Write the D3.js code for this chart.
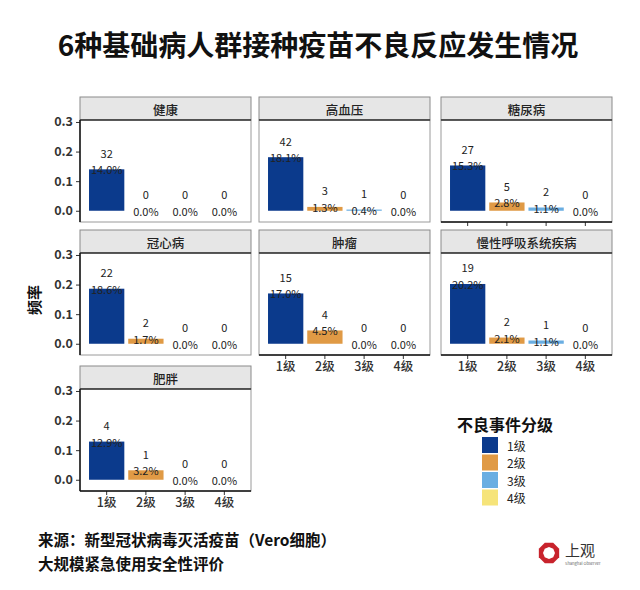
<!DOCTYPE html>
<html>
<head>
<meta charset="utf-8">
<script src="https://cdn.jsdelivr.net/npm/d3@7"></script>
<style>
  html, body { margin: 0; padding: 0; background: #fff; }
  svg { display: block; }
  text { font-family: "Noto Sans CJK SC", "Liberation Sans", sans-serif; }
</style>
</head>
<body>
<svg id="chart" width="640" height="590"></svg>
<script>
// ---------- data ----------
const panelNames = ["健康", "高血压", "糖尿病", "冠心病", "肿瘤", "慢性呼吸系统疾病", "肥胖"];
const grades = ["1级", "2级", "3级", "4级"];
const counts = [
  [32, 0, 0, 0],
  [42, 3, 1, 0],
  [27, 5, 2, 0],
  [22, 2, 0, 0],
  [15, 4, 0, 0],
  [19, 2, 1, 0],
  [4, 1, 0, 0]
];
const rates = [
  [0.140, 0.000, 0.000, 0.000],
  [0.181, 0.013, 0.004, 0.000],
  [0.153, 0.028, 0.011, 0.000],
  [0.186, 0.017, 0.000, 0.000],
  [0.170, 0.045, 0.000, 0.000],
  [0.202, 0.021, 0.011, 0.000],
  [0.129, 0.032, 0.000, 0.000]
];
const yTicks = [0.0, 0.1, 0.2, 0.3];
const gradeColors = ["#0b3a8c", "#e09a45", "#6aaee2", "#f6e47a"];
const titleText = "6种基础病人群接种疫苗不良反应发生情况";
const yLabel = "频率";
const legendTitle = "不良事件分级";
const footer = ["来源：新型冠状病毒灭活疫苗（Vero细胞）", "大规模紧急使用安全性评价"];

// ---------- layout ----------
const svg = d3.select("#chart");
const colX = [80, 259, 441];
const rowTop = [97, 230, 366];
const panelW = 171, stripH = 23, panelH = 102;
const color = d3.scaleOrdinal().domain(grades).range(gradeColors);

svg.append("text")
  .attr("x", 318).attr("y", 44)
  .attr("text-anchor", "middle").attr("dominant-baseline", "central")
  .attr("font-size", 28).attr("font-weight", 700).attr("fill", "#111")
  .text(titleText);

panelNames.forEach((name, i) => {
  const c = i % 3, r = Math.floor(i / 3);
  const x0 = colX[c], top = rowTop[r];
  const pTop = top + stripH, pBot = pTop + panelH;
  const g = svg.append("g");

  const x = d3.scaleBand().domain(grades).range([x0, x0 + panelW])
    .paddingInner(0.1).paddingOuter(0.23);
  const y = d3.scaleLinear().domain([-0.038, 0.3067]).range([pBot, pTop]);

  // strip
  g.append("rect").attr("x", x0).attr("y", top).attr("width", panelW).attr("height", stripH)
    .attr("fill", "#e6e6e6").attr("stroke", "#8a8a8a").attr("stroke-width", 1);
  g.append("text").attr("x", x0 + panelW / 2).attr("y", top + stripH / 2 + 0.5)
    .attr("text-anchor", "middle").attr("dominant-baseline", "central")
    .attr("font-size", 12.5).attr("font-weight", 500).attr("fill", "#222").text(name);

  // panel border
  g.append("rect").attr("x", x0).attr("y", pTop).attr("width", panelW).attr("height", panelH)
    .attr("fill", "#fff").attr("stroke", "#9a9a9a").attr("stroke-width", 1);
  g.append("line").attr("x1", x0).attr("x2", x0 + panelW).attr("y1", pTop).attr("y2", pTop)
    .attr("stroke", "#333").attr("stroke-width", 1.5);

  // bars
  g.selectAll("rect.bar").data(grades).join("rect").attr("class", "bar")
    .attr("x", d => x(d)).attr("width", x.bandwidth())
    .attr("y", (d, j) => y(rates[i][j]))
    .attr("height", (d, j) => y(0) - y(rates[i][j]))
    .attr("fill", d => color(d));

  // labels
  g.selectAll("text.pct").data(grades).join("text").attr("class", "pct")
    .attr("x", d => x(d) + x.bandwidth() / 2)
    .attr("y", (d, j) => y(rates[i][j]))
    .attr("text-anchor", "middle").attr("dominant-baseline", "central")
    .attr("font-size", 11).attr("fill", "#222")
    .text((d, j) => (rates[i][j] * 100).toFixed(1) + "%");
  g.selectAll("text.cnt").data(grades).join("text").attr("class", "cnt")
    .attr("x", d => x(d) + x.bandwidth() / 2)
    .attr("y", (d, j) => y(rates[i][j]) - 16.5)
    .attr("text-anchor", "middle").attr("dominant-baseline", "central")
    .attr("font-size", 11).attr("fill", "#222")
    .text((d, j) => counts[i][j]);

  // y axis on left column
  if (c === 0) {
    const ax = g.append("g").attr("transform", `translate(${x0},0)`)
      .call(d3.axisLeft(y).tickValues(yTicks).tickFormat(d3.format(".1f")).tickSize(4).tickPadding(3));
    ax.select(".domain").remove();
    ax.selectAll(".tick line").attr("stroke", "#333");
    ax.selectAll(".tick text").attr("font-size", 12.5).attr("font-weight", 700).attr("fill", "#333")
      .attr("font-family", "'Liberation Sans', sans-serif");
    g.append("line").attr("x1", x0).attr("x2", x0).attr("y1", pTop).attr("y2", pBot)
      .attr("stroke", "#111").attr("stroke-width", 1.5);
  }
  // x axis where no panel below (and ticks on panel 3)
  const showXLabels = (i >= 4);
  const showXTicks = (i >= 4) || i === 2;
  if (showXTicks) {
    const ax = g.append("g").attr("transform", `translate(0,${pBot})`)
      .call(d3.axisBottom(x).tickSize(4).tickPadding(3));
    ax.select(".domain").remove();
    ax.selectAll(".tick line").attr("stroke", "#333");
    if (showXLabels) {
      ax.selectAll(".tick text").attr("font-size", 12.5).attr("font-weight", 500).attr("fill", "#333");
    } else {
      ax.selectAll(".tick text").remove();
    }
    g.append("line").attr("x1", x0).attr("x2", x0 + panelW).attr("y1", pBot).attr("y2", pBot)
      .attr("stroke", "#111").attr("stroke-width", 1.5);
  }
});

// y label
svg.append("text").attr("transform", "translate(33,300) rotate(-90)")
  .attr("text-anchor", "middle").attr("dominant-baseline", "central")
  .attr("font-size", 15).attr("font-weight", 700).attr("fill", "#111").text(yLabel);

// legend
const lg = svg.append("g");
lg.append("text").attr("x", 457).attr("y", 424).attr("dominant-baseline", "central")
  .attr("font-size", 16).attr("font-weight", 700).attr("fill", "#111").text(legendTitle);
grades.forEach((gname, k) => {
  const yy = 437 + k * 17.5;
  lg.append("rect").attr("x", 482).attr("y", yy).attr("width", 16).attr("height", 16)
    .attr("fill", color(gname));
  lg.append("text").attr("x", 507).attr("y", yy + 8).attr("dominant-baseline", "central")
    .attr("font-size", 12).attr("fill", "#222").text(gname);
});

// footer
footer.forEach((t, k) => {
  svg.append("text").attr("x", 38).attr("y", 539 + k * 24).attr("dominant-baseline", "central")
    .attr("font-size", 15.5).attr("font-weight", 700).attr("fill", "#111").text(t);
});

// logo
const logo = svg.append("g").attr("transform", "translate(549,553)");
const oct = (rad, rot) => d3.range(8).map(k => {
  const a = rot + k * Math.PI / 4;
  return [rad * Math.cos(a), rad * Math.sin(a)];
});
logo.append("polygon").attr("points", oct(11, Math.PI / 8).map(p => p.join(",")).join(" ")).attr("fill", "#c8232c");
logo.append("polygon").attr("points", oct(6, 0).map(p => p.join(",")).join(" ")).attr("fill", "#fff");
logo.append("text").attr("x", 16).attr("y", -4).attr("dominant-baseline", "central")
  .attr("font-size", 15).attr("fill", "#333").attr("font-family", "'Noto Serif CJK SC', 'Noto Sans CJK SC', serif").text("上观");
logo.append("text").attr("x", 16).attr("y", 10).attr("dominant-baseline", "central")
  .attr("font-size", 4).attr("fill", "#666").attr("font-family", "'Liberation Sans', sans-serif").text("Shanghai Observer");
</script>
</body>
</html>
